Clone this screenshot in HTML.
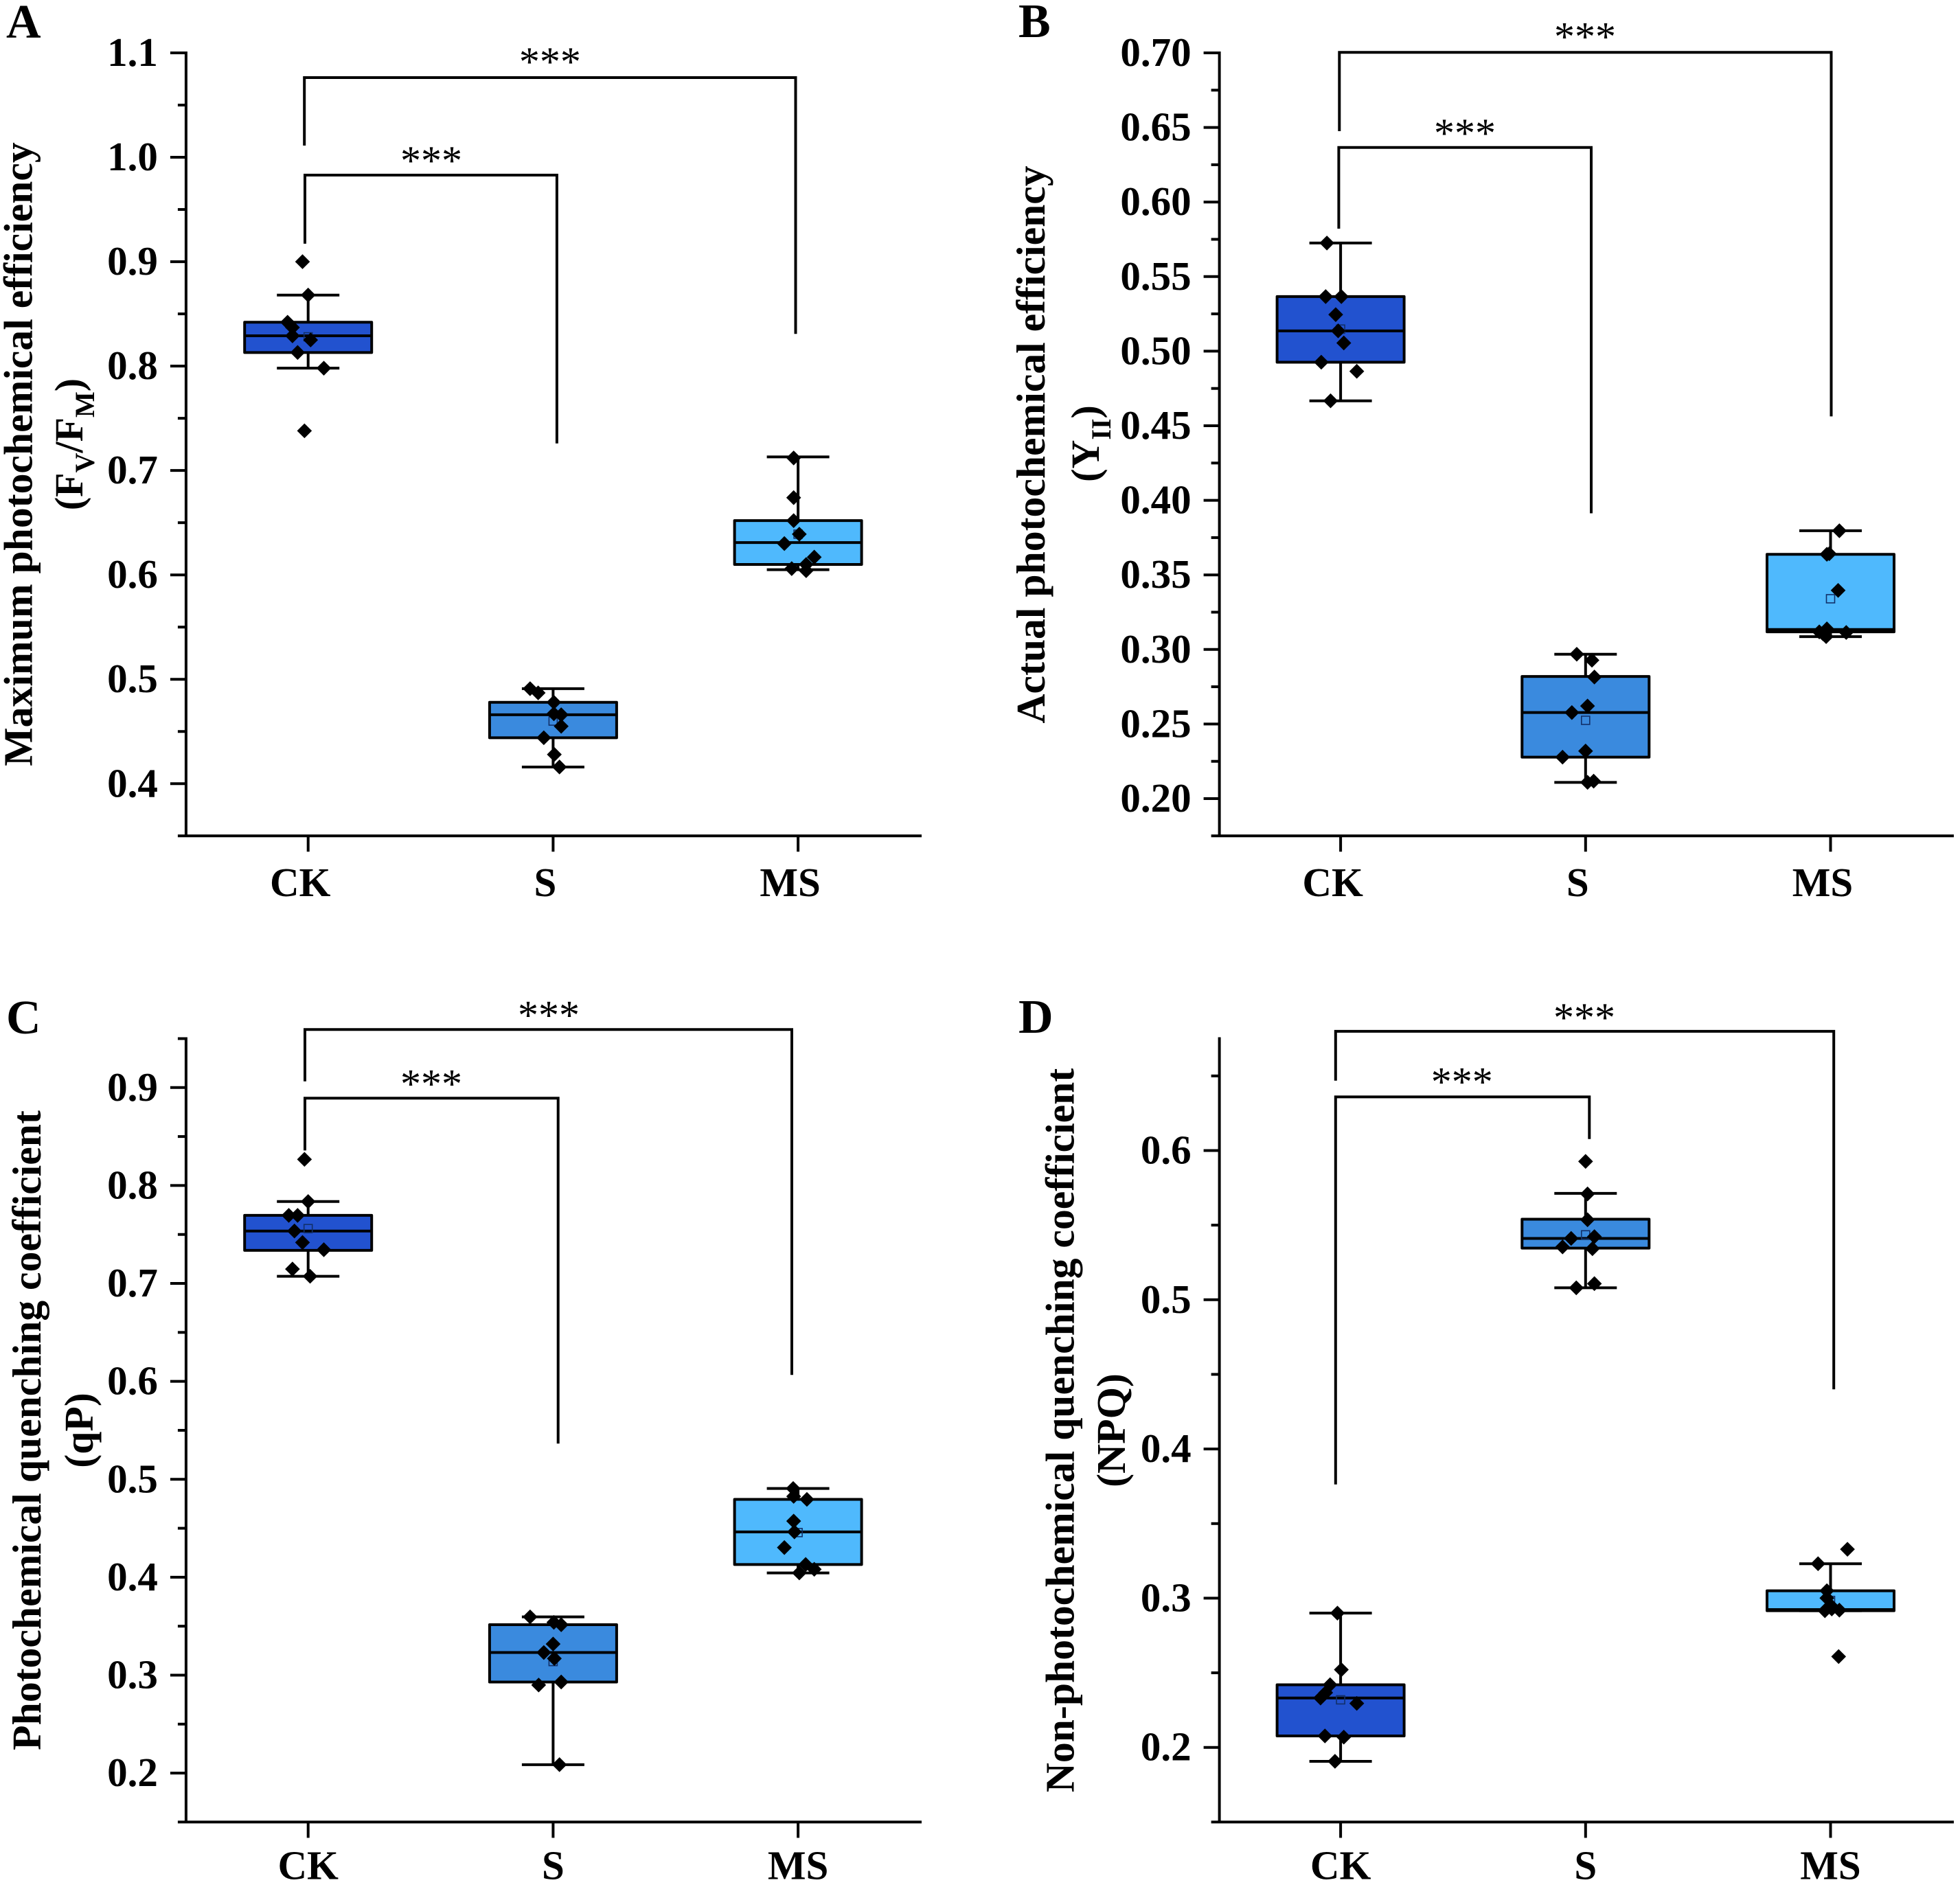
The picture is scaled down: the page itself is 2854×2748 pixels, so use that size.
<!DOCTYPE html>
<html lang="en">
<head>
<meta charset="utf-8">
<title>Photosynthetic fluorescence box plots</title>
<style>
html,body{margin:0;padding:0;background:#fff;width:2854px;height:2748px;overflow:hidden}
svg{display:block}
text{font-family:"Liberation Serif","Times New Roman",serif;fill:#000}
.title{font-weight:bold;font-size:59.7px;text-anchor:middle}
.unit{font-size:58px}
.letter{font-weight:bold;font-size:70px}
.stars{font-size:60px;text-anchor:middle;font-weight:normal}
.sub{font-size:40px}
.bracket{fill:none;stroke:#000;stroke-width:4}
</style>
</head>
<body>
<svg id="figure" xmlns="http://www.w3.org/2000/svg" width="2854" height="2748" viewBox="0 0 2854 2748">
  <rect x="0" y="0" width="2854" height="2748" fill="#fff"/>

  <text class="letter" x="9" y="55">A</text>
  <text class="letter" x="1483" y="54">B</text>
  <text class="letter" x="9" y="1505">C</text>
  <text class="letter" x="1483" y="1504">D</text>

  <text class="title" transform="translate(46.7,661.5) rotate(-90)">Maximum photochemical efficiency</text>
  <text class="title unit" transform="translate(120,647) rotate(-90)">(F<tspan class="sub" dy="17">V</tspan><tspan dy="-17">/F</tspan><tspan class="sub" dy="17">M</tspan><tspan dy="-17">)</tspan></text>
  <text class="title" transform="translate(1521,647.5) rotate(-90)">Actual photochemical efficiency</text>
  <text class="title unit" transform="translate(1600,646) rotate(-90)">(Y<tspan class="sub" dy="17">II</tspan><tspan dy="-17">)</tspan></text>
  <text class="title" transform="translate(59,2083) rotate(-90)">Photochemical quenching coefficient</text>
  <text class="title" transform="translate(135,2083) rotate(-90)">(qP)</text>
  <text class="title" transform="translate(1563.5,2083) rotate(-90)">Non-photochemical quenching coefficient</text>
  <text class="title" transform="translate(1638,2083) rotate(-90)">(NPQ)</text>

  <polyline class="bracket" points="443.2,212 443.2,113 1158.5,113 1158.5,486.3"/>
  <polyline class="bracket" points="444,354.9 444,255 810.9,255 810.9,645.8"/>
  <text class="stars" x="800.9" y="110">***</text>
  <text class="stars" x="628" y="254">***</text>

  <polyline class="bracket" points="1950.3,191 1950.3,76.2 2666.5,76.2 2666.5,606.4"/>
  <polyline class="bracket" points="1949.4,333 1949.4,214.7 2317,214.7 2317,747.5"/>
  <text class="stars" x="2308" y="73.6">***</text>
  <text class="stars" x="2133" y="213.8">***</text>

  <polyline class="bracket" points="444,1574.7 444,1499.3 1153,1499.3 1153,2002.3"/>
  <polyline class="bracket" points="444,1675.4 444,1599.2 812.7,1599.2 812.7,2102.2"/>
  <text class="stars" x="799" y="1498.4">***</text>
  <text class="stars" x="628" y="1598.3">***</text>

  <polyline class="bracket" points="1944.8,1573.8 1944.8,1501.9 2670.2,1501.9 2670.2,2023.3"/>
  <polyline class="bracket" points="1944.8,2161.8 1944.8,1597.4 2314.3,1597.4 2314.3,1658.8"/>
  <text class="stars" x="2307" y="1501.9">***</text>
  <text class="stars" x="2128.7" y="1595.7">***</text>
</svg>

<script>
const categories = ['CK', 'S', 'MS'];
const seriesColors = ['#2252cf', '#3a8ade', '#4fb9fd'];

/* Panel A: Fv/Fm */
const aTickLabels = ['0.4', '0.5', '0.6', '0.7', '0.8', '0.9', '1.0', '1.1'];
const aQ1 = [0.813, 0.444, 0.610];
const aMedian = [0.829, 0.466, 0.631];
const aQ3 = [0.842, 0.478, 0.652];
const aWhiskerLow = [0.798, 0.416, 0.605];
const aWhiskerHigh = [0.868, 0.491, 0.713];
const aMean = [0.828, 0.460, 0.639];
const aPointsCK = [0.900, 0.868, 0.842, 0.837, 0.829, 0.825, 0.813, 0.798, 0.738];
const aPointsS = [0.491, 0.487, 0.478, 0.467, 0.466, 0.455, 0.444, 0.428, 0.416];
const aPointsMS = [0.712, 0.674, 0.652, 0.639, 0.630, 0.617, 0.610, 0.606, 0.604];
const aJitterCK = [-0.023, 0, -0.084, -0.064, -0.064, 0.010, -0.043, 0.064, -0.015];
const aJitterS = [-0.094, -0.061, 0.003, 0.003, 0.033, 0.033, -0.038, 0.005, 0.026];
const aJitterMS = [-0.018, -0.018, -0.018, 0.005, -0.056, 0.066, 0.033, -0.026, 0.033];

/* Panel B: Y(II) */
const bTickLabels = ['0.20', '0.25', '0.30', '0.35', '0.40', '0.45', '0.50', '0.55', '0.60', '0.65', '0.70'];
const bQ1 = [0.4926, 0.2278, 0.3118];
const bMedian = [0.5136, 0.2577, 0.3134];
const bQ3 = [0.5366, 0.2819, 0.3638];
const bWhiskerLow = [0.4667, 0.2109, 0.3086];
const bWhiskerHigh = [0.5725, 0.2968, 0.3796];
const bMean = [0.5148, 0.2525, 0.3340];
const bPointsCK = [0.5725, 0.5366, 0.5366, 0.5245, 0.5136, 0.5055, 0.4926, 0.4865, 0.4667];
const bPointsS = [0.2968, 0.2928, 0.2815, 0.2621, 0.2577, 0.2319, 0.2278, 0.2117, 0.2109];
const bPointsMS = [0.3796, 0.3642, 0.3638, 0.3396, 0.3138, 0.3118, 0.3114, 0.3105, 0.3086];
const bJitterCK = [-0.056, -0.061, 0.003, -0.020, -0.010, 0.013, -0.079, 0.066, -0.041];
const bJitterS = [-0.036, 0.026, 0.036, 0.008, -0.056, 0, -0.094, 0.033, 0.008];
const bJitterMS = [0.036, -0.005, -0.015, 0.031, -0.015, -0.046, 0.064, -0.031, -0.018];

/* Panel C: qP */
const cTickLabels = ['0.2', '0.3', '0.4', '0.5', '0.6', '0.7', '0.8', '0.9'];
const cQ1 = [0.7338, 0.293, 0.413];
const cMedian = [0.7535, 0.3231, 0.4463];
const cQ3 = [0.7695, 0.3515, 0.4795];
const cWhiskerLow = [0.7073, 0.2086, 0.4044];
const cWhiskerHigh = [0.7836, 0.3595, 0.4906];
const cMean = [0.756, 0.3139, 0.4456];
const cPointsCK = [0.8267, 0.7836, 0.7695, 0.7695, 0.7535, 0.7418, 0.7344, 0.7147, 0.7073];
const cPointsS = [0.3595, 0.3539, 0.3515, 0.3318, 0.3231, 0.317, 0.293, 0.2899, 0.2086];
const cPointsMS = [0.4906, 0.4826, 0.4795, 0.4573, 0.4463, 0.4303, 0.413, 0.4081, 0.4044];
const cJitterCK = [-0.015, 0, -0.079, -0.043, -0.056, -0.023, 0.064, -0.064, 0.008];
const cJitterS = [-0.094, 0.003, 0.033, 0, -0.038, 0.005, 0.033, -0.059, 0.026];
const cJitterMS = [-0.020, -0.018, 0.036, -0.018, -0.015, -0.056, 0.031, 0.066, 0.005];

/* Panel D: NPQ */
const dTickLabels = ['0.2', '0.3', '0.4', '0.5', '0.6'];
const dQ1 = [0.2077, 0.5346, 0.2916];
const dMedian = [0.2331, 0.5411, 0.2924];
const dQ3 = [0.242, 0.554, 0.305];
const dWhiskerLow = [0.1907, 0.508, 0.2916];
const dWhiskerHigh = [0.29, 0.5713, 0.3231];
const dMean = [0.2319, 0.5435, 0.2985];
const dPointsCK = [0.29, 0.2521, 0.242, 0.2367, 0.2331, 0.2295, 0.2077, 0.2069, 0.1907];
const dPointsS = [0.5927, 0.5709, 0.5536, 0.5423, 0.5411, 0.5354, 0.5342, 0.5108, 0.508];
const dPointsMS = [0.3328, 0.3231, 0.305, 0.3001, 0.2953, 0.2928, 0.2916, 0.292, 0.2609];
const dJitterCK = [-0.013, 0.003, -0.043, -0.061, -0.082, 0.066, -0.064, 0.013, -0.023];
const dJitterS = [0, 0.008, 0.008, 0.036, -0.059, -0.094, 0.028, 0.036, -0.038];
const dJitterMS = [0.069, -0.051, -0.015, -0.015, 0, 0.005, -0.023, 0.036, 0.033];

const SVG_NS = 'http://www.w3.org/2000/svg';
const figure = document.getElementById('figure');

function make(tag, attrs, parent) {
  const node = document.createElementNS(SVG_NS, tag);
  for (const key in attrs) node.setAttribute(key, attrs[key]);
  parent.appendChild(node);
  return node;
}

function stroke(x1, y1, x2, y2, parent) {
  return make('line', { x1: x1, y1: y1, x2: x2, y2: y2, stroke: '#000', 'stroke-width': 4 }, parent);
}

function drawPanel(p) {
  const yScale = v => p.bottom - (v - p.yMin) / (p.yMax - p.yMin) * (p.bottom - p.top);
  const xScale = c => p.firstX + c * p.stepX;

  const group = make('g', {}, figure);
  
  

  const yAxis = stroke(p.left, p.top - 2, p.left, p.bottom, group);
  
  

  const xAxis = stroke(p.left - 12, p.bottom, p.right, p.bottom, group);
  
  

  const values = p.tickLabels.map(Number);
  const step = values[1] - values[0];
  values.forEach((v, i) => {
    const y = yScale(v);
    const tick = stroke(p.left - 23, y, p.left, y, group);
    
    

    const label = make('text', { x: p.left - 41, y: y + 19, 'text-anchor': 'end', 'font-weight': 'bold', 'font-size': 59 }, group);
    label.textContent = p.tickLabels[i];
    
    
  });

  for (let v = values[0] - step / 2; v <= p.yMax + 1e-6; v += step) {
    const isMajor = values.some(m => Math.abs(m - v) < 1e-6);
    if (isMajor || v <= p.yMin + 1e-6) continue;
    const y = yScale(v);
    const minor = stroke(p.left - 12, y, p.left, y, group);
    
    
  }

  categories.forEach((name, c) => {
    const cx = xScale(c);
    const tick = stroke(cx, p.bottom, cx, p.bottom + 23, group);
    
    

    const label = make('text', { x: cx + p.labelShift, y: p.labelY, 'text-anchor': 'middle', 'font-weight': 'bold', 'font-size': 59 }, group);
    label.textContent = name;
    
    

    const whisker = stroke(cx, yScale(p.low[c]), cx, yScale(p.high[c]), group);
    
    

    const capLow = stroke(cx - 45.5, yScale(p.low[c]), cx + 45.5, yScale(p.low[c]), group);
    
    

    const capHigh = stroke(cx - 45.5, yScale(p.high[c]), cx + 45.5, yScale(p.high[c]), group);
    
    

    const box = make('rect', {
      x: cx - 92.5,
      y: yScale(p.q3[c]),
      width: 185,
      height: yScale(p.q1[c]) - yScale(p.q3[c]),
      fill: seriesColors[c],
      stroke: '#000',
      'stroke-width': 4,
      'stroke-linejoin': 'round'
    }, group);
    
    

    const median = stroke(cx - 92.5, yScale(p.median[c]), cx + 92.5, yScale(p.median[c]), group);
    
    

    const my = yScale(p.mean[c]);
    const mean = make('rect', { x: cx - 6, y: my - 6, width: 12, height: 12, fill: 'none', stroke: '#123069', 'stroke-width': 1.6 }, group);
    
    

    p.points[c].forEach((v, i) => {
      const px = xScale(c + p.jitter[c][i]);
      const py = yScale(v);
      const d = 10.8;
      const diamond = make('path', {
        d: 'M' + px + ' ' + (py - d) + 'L' + (px + d) + ' ' + py + 'L' + px + ' ' + (py + d) + 'L' + (px - d) + ' ' + py + 'Z',
        fill: '#000'
      }, group);
      
      
    });
  });
}

const leftColumn = { left: 270.9, right: 1342, firstX: 448.7, stepX: 356.7 };
const rightColumn = { left: 1775.6, right: 2845, firstX: 1952.1, stepX: 356.7 };

drawPanel(Object.assign({
  id: 'a', top: 77, bottom: 1217.3, yMin: 0.35, yMax: 1.1, labelShift: -11.5, labelY: 1305,
  tickLabels: aTickLabels, q1: aQ1, median: aMedian, q3: aQ3, low: aWhiskerLow, high: aWhiskerHigh, mean: aMean,
  points: [aPointsCK, aPointsS, aPointsMS], jitter: [aJitterCK, aJitterS, aJitterMS]
}, leftColumn));

drawPanel(Object.assign({
  id: 'b', top: 77, bottom: 1217.3, yMin: 0.175, yMax: 0.70, labelShift: -11.5, labelY: 1305,
  tickLabels: bTickLabels, q1: bQ1, median: bMedian, q3: bQ3, low: bWhiskerLow, high: bWhiskerHigh, mean: bMean,
  points: [bPointsCK, bPointsS, bPointsMS], jitter: [bJitterCK, bJitterS, bJitterMS]
}, rightColumn));

drawPanel(Object.assign({
  id: 'c', top: 1512.5, bottom: 2653.4, yMin: 0.15, yMax: 0.95, labelShift: 0, labelY: 2736.6,
  tickLabels: cTickLabels, q1: cQ1, median: cMedian, q3: cQ3, low: cWhiskerLow, high: cWhiskerHigh, mean: cMean,
  points: [cPointsCK, cPointsS, cPointsMS], jitter: [cJitterCK, cJitterS, cJitterMS]
}, leftColumn));

drawPanel(Object.assign({
  id: 'd', top: 1512.5, bottom: 2653.4, yMin: 0.15, yMax: 0.675, labelShift: 0, labelY: 2736.6,
  tickLabels: dTickLabels, q1: dQ1, median: dMedian, q3: dQ3, low: dWhiskerLow, high: dWhiskerHigh, mean: dMean,
  points: [dPointsCK, dPointsS, dPointsMS], jitter: [dJitterCK, dJitterS, dJitterMS]
}, rightColumn));
</script>
</body>
</html>
